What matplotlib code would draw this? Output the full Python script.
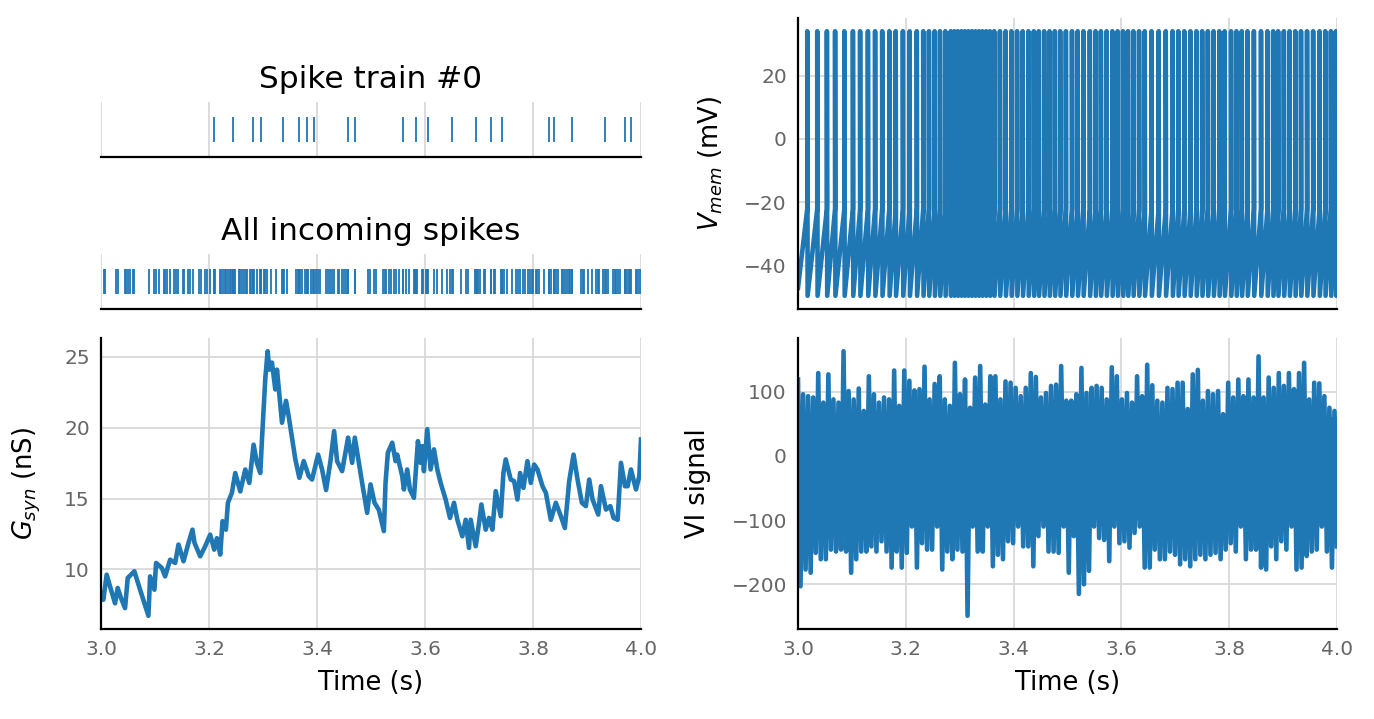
import numpy as np
import matplotlib.pyplot as plt

AZUL = '#1f77b4'

# --- datos ---
# tren de spikes #0 (s)
spike0_t = [3.209, 3.244, 3.281, 3.296, 3.337, 3.366, 3.381, 3.394, 3.457, 3.470,
            3.559, 3.583, 3.605, 3.650, 3.694, 3.723, 3.742, 3.830, 3.838, 3.872,
            3.933, 3.971, 3.981]

# resto de spikes entrantes (s)
otros_t = [3.006, 3.008, 3.028, 3.031, 3.044, 3.047, 3.050, 3.054, 3.059, 3.062,
           3.088, 3.098, 3.101, 3.107, 3.116, 3.119, 3.123, 3.127, 3.136, 3.139,
           3.143, 3.152, 3.154, 3.162, 3.165, 3.170, 3.181, 3.185, 3.193, 3.196,
           3.201, 3.210, 3.212, 3.221, 3.223, 3.225, 3.229, 3.232, 3.236, 3.238,
           3.240, 3.244, 3.247, 3.249, 3.255, 3.258, 3.262, 3.265, 3.269, 3.271,
           3.275, 3.278, 3.282, 3.284, 3.288, 3.295, 3.297, 3.301, 3.304, 3.307,
           3.314, 3.324, 3.335, 3.339, 3.345, 3.361, 3.365, 3.368, 3.373, 3.378,
           3.381, 3.384, 3.389, 3.393, 3.398, 3.401, 3.405, 3.417, 3.420, 3.424,
           3.428, 3.431, 3.439, 3.441, 3.447, 3.450, 3.454, 3.458, 3.470, 3.494,
           3.498, 3.506, 3.509, 3.522, 3.525, 3.528, 3.533, 3.537, 3.542, 3.546,
           3.551, 3.559, 3.565, 3.570, 3.579, 3.582, 3.585, 3.594, 3.597, 3.601,
           3.604, 3.616, 3.622, 3.631, 3.640, 3.646, 3.651, 3.666, 3.675, 3.679,
           3.692, 3.696, 3.699, 3.702, 3.709, 3.712, 3.723, 3.727, 3.730, 3.740,
           3.743, 3.747, 3.751, 3.761, 3.769, 3.773, 3.775, 3.781, 3.786, 3.790,
           3.795, 3.798, 3.800, 3.806, 3.808, 3.811, 3.820, 3.830, 3.833, 3.838,
           3.843, 3.846, 3.853, 3.856, 3.859, 3.863, 3.866, 3.869, 3.872, 3.889,
           3.892, 3.895, 3.902, 3.910, 3.917, 3.920, 3.923, 3.930, 3.935, 3.939,
           3.948, 3.951, 3.954, 3.957, 3.961, 3.971, 3.974, 3.977, 3.980, 3.990,
           3.993, 3.997, 3.9995]

# conductancia sinaptica: tiempo (ms desde 3 s) y valor (nS)
gsyn_ms = [0, 4.3, 10.5, 16.7, 26.0, 30.9, 37.1, 44.5, 49.5, 61.8,
           72.4, 87.8, 90.9, 98.9, 102.0, 112.6, 118.7, 128.0, 137.3, 143.5,
           152.8, 162.0, 169.4, 173.2, 183.7, 193.0, 202.2, 209.6, 214.6, 220.8,
           225.1, 231.3, 235.0, 242.4, 248.6, 257.9, 267.2, 274.6, 282.6, 288.8,
           295.0, 298.1, 304.3, 308.6, 311.7, 316.6, 322.8, 325.9, 335.2, 342.6,
           347.6, 359.9, 367.3, 375.4, 384.7, 390.8, 402.0, 409.4, 416.8, 424.9,
           431.7, 437.2, 446.5, 457.6, 465.1, 470.0, 483.6,
           492.9, 499.1, 506.5, 514.5, 523.8, 526.9, 531.2, 539.3, 545.5, 548.5,
           557.8, 560.9, 567.1, 572.0, 579.5, 586.9, 591.8, 594.9, 598.0, 604.2,
           610.4, 616.6, 622.8, 629.0, 638.2, 646.3, 653.7, 659.9, 669.1, 675.3,
           681.5, 684.6, 693.9, 700.1, 704.4, 712.4, 718.6, 724.8, 731.0, 740.3,
           745.2, 749.5, 758.8, 765.0, 771.2, 776.1, 782.3, 789.7, 795.9, 802.1,
           808.3, 817.6, 823.8, 833.0, 842.3, 851.6, 859.0, 867.0, 875.1, 882.5,
           890.5, 897.9, 904.1, 910.3, 920.8, 925.8, 935.1, 943.1, 949.3, 956.7,
           962.9, 970.3, 975.3, 981.4, 990.7, 996.9, 1000]
gsyn_v = [8.33, 7.85, 9.62, 8.8, 7.6, 8.68, 7.97, 7.26, 9.39, 9.86,
          8.56, 6.72, 9.5, 8.56, 10.45, 10.1, 9.5, 10.68, 10.45, 11.75,
          10.57, 11.86, 12.8, 11.86, 10.92, 11.63, 12.45, 11.39, 12.2, 11.04,
          13.4, 12.8, 14.7, 15.4, 16.8, 15.5, 17.05, 16.1, 18.8, 17.5,
          16.8, 19.17, 23.5, 25.4, 24.1, 24.6, 22.7, 24.1, 20.35, 21.9,
          20.8, 17.76, 16.46, 17.64, 16.58, 16.34, 18.1, 17.05, 15.6, 17.64,
          19.76, 17.64, 16.93, 19.3, 17.52, 19.3, 16.1,
          13.99, 16.0, 14.7, 14.2, 12.7, 16.1, 18.23, 18.94, 17.64, 18.1,
          16.58, 15.64, 17.05, 15.64, 15.05, 19.05, 17.52, 18.7, 16.93, 19.9,
          17.05, 18.47, 17.05, 16.1, 14.93, 13.63, 14.7, 13.5, 12.33, 13.5,
          11.51, 13.5, 11.63, 13.28, 14.58, 12.8, 13.63, 12.8, 15.52, 13.75,
          16.8, 17.76, 16.34, 16.23, 14.93, 16.8, 15.75, 17.64, 16.1, 17.4,
          17.05, 15.87, 15.4, 13.5, 14.7, 13.75, 12.92, 16.23, 18.1, 16.34,
          14.7, 14.46, 16.34, 14.93, 13.87, 15.87, 14.22, 14.46, 13.63, 13.5,
          17.52, 15.87, 15.87, 17.05, 15.64, 16.58, 19.17]

# potencial de membrana: instantes de disparo (s) y niveles (mV)
vmem_spike_t = [3.0172, 3.0357, 3.0536, 3.0688, 3.0860, 3.1019, 3.1152, 3.1297, 3.1430, 3.1562,
                3.1694, 3.1813, 3.1946, 3.2071, 3.2204, 3.2323, 3.2429, 3.2535, 3.2634, 3.2733,
                3.2833, 3.2900, 3.2965, 3.3030, 3.3095, 3.3160, 3.3225, 3.3290, 3.3355, 3.3420,
                3.3490, 3.3560, 3.3640, 3.3746, 3.3852, 3.3958, 3.4064, 3.4169, 3.4275, 3.4375,
                3.4467, 3.4567, 3.4666, 3.4765, 3.4864, 3.4970, 3.5083, 3.5189, 3.5294, 3.5414,
                3.5520, 3.5619, 3.5725, 3.5831, 3.5930, 3.6029, 3.6122, 3.6221, 3.6327, 3.6433,
                3.6559, 3.6691, 3.6823, 3.6949, 3.7055, 3.7167, 3.7280, 3.7392, 3.7498, 3.7604,
                3.7710, 3.7816, 3.7915, 3.8034, 3.8134, 3.8233, 3.8339, 3.8458, 3.8590, 3.8709,
                3.8815, 3.8908, 3.9014, 3.9120, 3.9226, 3.9332, 3.9444, 3.9557, 3.9676, 3.9782,
                3.9887, 3.9980]
v_inicio, v_umbral, v_pico, v_reset = -47, -22, 34, -49.5

# senal VI: maximos y minimos alternados de izquierda a derecha
vi_picos = [119, 96, 93, 91, 129, 83, 127, 88, 83, 163, 101, 88, 105, 70, 124, 96, 83,
            91, 88, 133, 78, 133, 117, 102, 104, 139, 88, 112, 124, 88, 78, 145, 96,
            119, 75, 122, 140, 80, 124, 124, 88, 116, 114, 106, 93, 106, 129, 123, 91,
            98, 109, 111, 140, 86, 86, 96, 137, 98, 106, 109, 106, 88, 138, 124, 88,
            98, 83, 124, 93, 142, 110, 86, 83, 106, 104, 114, 114, 73, 127, 134, 86,
            101, 96, 101, 65, 114, 91, 119, 93, 119, 91, 155, 91, 122, 106, 129, 109,
            129, 104, 129, 145, 88, 114, 113, 93, 75, 70]
vi_valles = [-203, -177, -182, -151, -161, -161, -146, -149, -146, -149, -182, -161, -149, -149, -141, -149, -133,
             -149, -174, -149, -174, -151, -110, -174, -136, -146, -146, -110, -177, -149, -161, -146, -149,
             -249, -110, -149, -149, -110, -172, -154, -161, -133, -136, -110, -141, -141, -172, -125, -110,
             -149, -149, -151, -110, -182, -125, -215, -200, -179, -110, -128, -131, -164, -110, -136, -133,
             -143, -120, -110, -174, -174, -146, -161, -161, -149, -154, -169, -161, -172, -161, -154, -161,
             -154, -151, -161, -146, -136, -149, -110, -161, -146, -146, -174, -177, -141, -161, -133, -146,
             -110, -177, -174, -156, -149, -146, -110, -149, -174, -141]
vi_nucleo = (-100, 60)   # banda densa central

# --- construir trazas ---
gsyn_t = 3 + np.array(gsyn_ms) / 1000.0
todos_t = np.sort(np.concatenate([otros_t, spike0_t]))

vm_t, vm_v = [3.0], [v_inicio]
for s in vmem_spike_t:
    vm_t += [s, s, s + 0.0006]
    vm_v += [v_umbral, v_pico, v_reset]
vm_t.append(4.0)
vm_v.append(v_reset + (v_umbral - v_reset) * 0.2)

vi_v = np.column_stack([vi_picos, vi_valles]).ravel()
vi_t = np.linspace(3.0, 4.0, len(vi_v))

# --- figura ---
W, H = 1374, 719
fig = plt.figure(figsize=(W / 100, H / 100), dpi=100)


def caja(x0, y0, x1, y1):
    return [x0 / W, 1 - y1 / H, (x1 - x0) / W, (y1 - y0) / H]


ax_sp0 = fig.add_axes(caja(101, 102, 641, 157))
ax_all = fig.add_axes(caja(101, 254, 641, 309))
ax_g = fig.add_axes(caja(101, 338, 641, 629))
ax_v = fig.add_axes(caja(798, 18, 1337, 309))
ax_vi = fig.add_axes(caja(798, 338, 1337, 629))

TICKS_X = [3.0, 3.2, 3.4, 3.6, 3.8, 4.0]
GROSOR = 3.3


def estilo(ax):
    for s in ['top', 'right']:
        ax.spines[s].set_visible(False)
    for s in ['left', 'bottom']:
        ax.spines[s].set_linewidth(1.6)
        ax.spines[s].set_color('black')
    ax.tick_params(length=0, labelsize=14.5, labelcolor='#666666', pad=8)
    ax.grid(True, color='#d9d9d9', linewidth=1.3)
    ax.set_axisbelow(True)
    ax.set_xlim(3.0, 4.0)
    ax.set_xticks(TICKS_X)


for ax, tiempos, titulo in [(ax_sp0, spike0_t, 'Spike train #0'),
                            (ax_all, todos_t, 'All incoming spikes')]:
    estilo(ax)
    ax.eventplot(tiempos, lineoffsets=0, linelengths=1, linewidths=1.3, colors=AZUL)
    ax.set_ylim(-1.1, 1.1)
    ax.set_yticks([])
    ax.spines['left'].set_visible(False)
    ax.tick_params(labelbottom=False)
    ax.set_title(titulo, fontsize=22.5, pad=10)

estilo(ax_g)
ax_g.plot(gsyn_t, gsyn_v, color=AZUL, linewidth=GROSOR)
ax_g.set_yticks([10, 15, 20, 25])
ax_g.set_ylabel(r'$G_{syn}$ (nS)', fontsize=18.5)
ax_g.yaxis.set_label_coords(-0.108, 0.5)
ax_g.set_xlabel('Time (s)', fontsize=18.5, labelpad=8)

estilo(ax_v)
ax_v.plot(vm_t, vm_v, color=AZUL, linewidth=GROSOR)
ax_v.set_yticks([-40, -20, 0, 20])
ax_v.tick_params(labelbottom=False)
ax_v.set_ylabel(r'$V_{mem}$ (mV)', fontsize=18.5)
ax_v.yaxis.set_label_coords(-0.135, 0.5)

estilo(ax_vi)
ax_vi.fill_between([3.0, 4.0], vi_nucleo[0], vi_nucleo[1], color=AZUL, linewidth=0)
ax_vi.plot(vi_t, vi_v, color=AZUL, linewidth=GROSOR)
ax_vi.set_xlim(3.0, 4.0)
ax_vi.set_yticks([-200, -100, 0, 100])
ax_vi.set_ylabel('VI signal', fontsize=18.5)
ax_vi.yaxis.set_label_coords(-0.161, 0.5)
ax_vi.set_xlabel('Time (s)', fontsize=18.5, labelpad=8)

fig.savefig('out.png', dpi=100)
